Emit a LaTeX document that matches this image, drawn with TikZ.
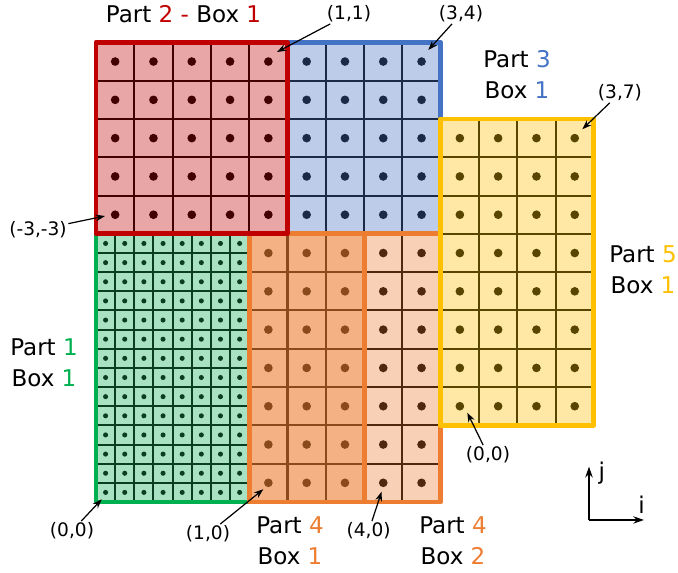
\documentclass[tikz,border=0pt]{standalone}
\usepackage{fontspec}
\setmainfont{DejaVu Sans}
\usetikzlibrary{arrows.meta}
\definecolor{redB}{HTML}{C00000}
\definecolor{redF}{HTML}{E8A6A6}
\definecolor{redL}{HTML}{420000}
\definecolor{blueB}{HTML}{4472C4}
\definecolor{blueF}{HTML}{BDCCE8}
\definecolor{blueL}{HTML}{1C2A48}
\definecolor{yelB}{HTML}{FFC000}
\definecolor{yelF}{HTML}{FFE8A5}
\definecolor{yelL}{HTML}{584500}
\definecolor{orB}{HTML}{ED7D31}
\definecolor{orOneF}{HTML}{F4B183}
\definecolor{orOneL}{HTML}{8A4A1C}
\definecolor{orTwoF}{HTML}{F8D0B6}
\definecolor{orTwoL}{HTML}{502810}
\definecolor{grB}{HTML}{00B050}
\definecolor{grF}{HTML}{A8E2C3}
\definecolor{grL}{HTML}{0B3D1F}
\tikzset{
  gridline/.style={line width=1.5pt},
  boxborder/.style={line width=3.6pt, line join=round},
  coordlbl/.style={font=\fontsize{13.8}{16}\selectfont, inner sep=1pt},
  partlbl/.style={font=\fontsize{17.1}{23}\selectfont, align=center, inner sep=0pt},
  pointer/.style={-{Stealth[length=7pt,width=5pt]}, line width=0.9pt},
  axisarrow/.style={-{Stealth[length=8pt,width=5.5pt]}, line width=1pt},
}
\begin{document}
\begin{tikzpicture}
\useasboundingbox (-2.507,-1.854) rectangle (15.196,13.107);
% ---- fills
\fill[grF] (0,0) rectangle (4,7);
\fill[orOneF] (4,0) rectangle (7,7);
\fill[orTwoF] (7,0) rectangle (9,7);
\fill[blueF] (5,7) rectangle (9,12);
\fill[yelF] (9,2) rectangle (13,10);
\fill[redF] (0,7) rectangle (5,12);
% ---- grids
\draw[gridline,grL] (0,0) grid[step=0.5] (4,7);
\draw[gridline,orOneL] (4,0) grid[step=1] (7,7);
\draw[gridline,orTwoL] (7,0) grid[step=1] (9,7);
\draw[gridline,blueL] (5,7) grid[step=1] (9,12);
\draw[gridline,yelL] (9,2) grid[step=1] (13,10);
\draw[gridline,redL] (0,7) grid[step=1] (5,12);
% ---- dots
\foreach \i in {0,...,7} \foreach \j in {0,...,13}
  \fill[grL] (\i*0.5+0.25,\j*0.5+0.25) circle (0.066);
\foreach \i in {4,...,6} \foreach \j in {0,...,6}
  \fill[orOneL] (\i+0.5,\j+0.5) circle (0.113);
\foreach \i in {7,8} \foreach \j in {0,...,6}
  \fill[orTwoL] (\i+0.5,\j+0.5) circle (0.113);
\foreach \i in {5,...,8} \foreach \j in {7,...,11}
  \fill[blueL] (\i+0.5,\j+0.5) circle (0.113);
\foreach \i in {9,...,12} \foreach \j in {2,...,9}
  \fill[yelL] (\i+0.5,\j+0.5) circle (0.113);
\foreach \i in {0,...,4} \foreach \j in {7,...,11}
  \fill[redL] (\i+0.5,\j+0.5) circle (0.113);
% ---- borders
\draw[boxborder,grB] (0,0) rectangle (4,7);
\draw[boxborder,blueB] (5,7) rectangle (9,12);
\draw[boxborder,orB] (4,0) rectangle (9,7) (7,0) -- (7,7);
\draw[boxborder,yelB] (9,2) rectangle (13,10);
\draw[boxborder,redB] (0,7) rectangle (5,12);
% ---- part labels
\node[partlbl] (p2) at (2.285,12.726) {Part \textcolor{redB}{2} \textcolor{redB}{-} Box \textcolor{redB}{1}};
\node[partlbl] (p3) at (10.992,11.162) {Part \textcolor{blueB}{3}\\Box \textcolor{blueB}{1}};
\node[partlbl] (p5) at (14.282,6.057) {Part \textcolor{yelB}{5}\\Box \textcolor{yelB}{1}};
\node[partlbl] (p1) at (-1.358,3.642) {Part \textcolor{grB}{1}\\Box \textcolor{grB}{1}};
\node[partlbl] (p41) at (5.065,-1.005) {Part \textcolor{orB}{4}\\Box \textcolor{orB}{1}};
\node[partlbl] (p42) at (9.321,-1.005) {Part \textcolor{orB}{4}\\Box \textcolor{orB}{2}};
% ---- coordinate labels and pointers
\node[coordlbl] (c11) at (6.606,12.741) {(1,1)};
\coordinate (t11) at (4.726,11.749);
\node[coordlbl] (c34) at (9.530,12.741) {(3,4)};
\coordinate (t34) at (8.676,11.802);
\node[coordlbl] (c37) at (13.681,10.679) {(3,7)};
\coordinate (t37) at (12.697,9.731);
\node[coordlbl] (c33) at (-1.514,7.102) {(-3,-3)};
\coordinate (t33) at (0.235,7.467);
\node[coordlbl] (cg) at (-0.627,-0.757) {(0,0)};
\coordinate (tg) at (0.149,0.070);
\node[coordlbl] (c10) at (2.924,-0.836) {(1,0)};
\coordinate (t10) at (4.368,0.332);
\node[coordlbl] (c40) at (7.120,-0.757) {(4,0)};
\coordinate (t40) at (7.457,0.269);
\node[coordlbl] (cy) at (10.235,1.227) {(0,0)};
\coordinate (ty) at (9.695,2.332);
\foreach \a/\b in {c11/t11,c34/t34,c37/t37,c33/t33,cg/tg,c10/t10,c40/t40,cy/ty}
  \draw[pointer] (\a) -- (\b);
% ---- axes
\coordinate (ax) at (12.872,-0.470);
\coordinate (axj) at (12.872,0.922);
\coordinate (axi) at (14.308,-0.470);
\draw[axisarrow] (ax) -- (axj);
\draw[axisarrow] (ax) -- (axi);
\node[partlbl] (lj) at (13.204,0.757) {j};
\node[partlbl] (li) at (14.248,-0.078) {i};
\end{tikzpicture}
\end{document}
